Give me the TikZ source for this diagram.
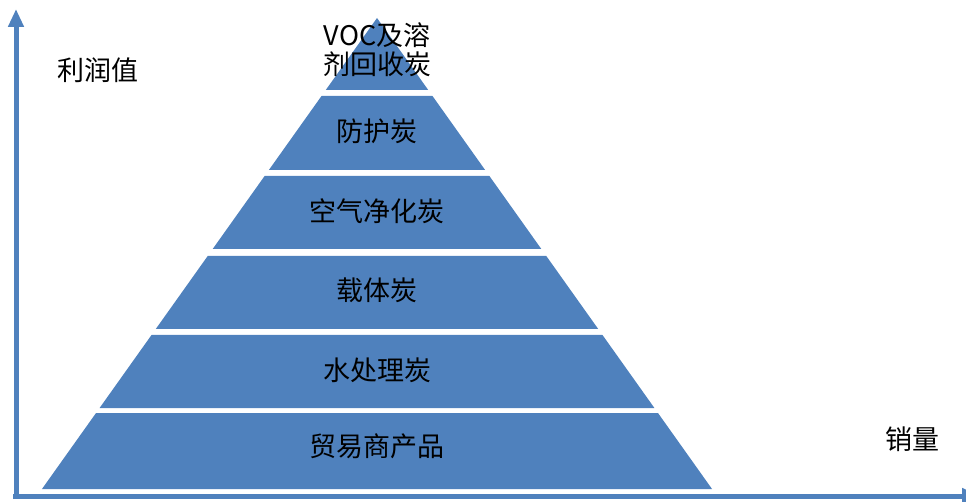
\documentclass[tikz,border=0pt]{standalone}
\usepackage{fontspec}
\setmainfont{Noto Sans CJK SC}
\usetikzlibrary{arrows.meta}
\definecolor{pyrblue}{HTML}{4F81BD}
\tikzset{
  layer/.style={fill=pyrblue},
  axis/.style={draw=pyrblue, line width=5pt, -{Triangle[length=18pt,width=15pt]}},
  tag/.style={font=\fontsize{27}{29}\selectfont, align=center, inner sep=0pt},
}
\begin{document}
\begin{tikzpicture}[x=1pt,y=-1pt]
  \useasboundingbox (0,0) rectangle (966,502);
  % axes
  \coordinate (ybase) at (16,498);
  \coordinate (ytip)  at (16,9);
  \coordinate (xbase) at (13,496);
  \coordinate (xtip)  at (980,496);
  \draw [axis] (ybase) -- (ytip);
  \draw [axis] (xbase) -- (xtip);
  % pyramid, apex at (377,18)
  \foreach \ya/\yb in {18/90, 96/170, 176/249, 256/329, 335/408, 413/489}
    \fill [layer] ({377-0.7113*(\ya-18)},\ya) -- ({377+0.7113*(\ya-18)},\ya)
      -- ({377+0.7113*(\yb-18)},\yb) -- ({377-0.7113*(\yb-18)},\yb) -- cycle;
  \node [tag] (voc)   at (377,50)  {VOC及溶\\剂回收炭};
  \node [tag] (fh)    at (377,131) {防护炭};
  \node [tag] (kq)    at (377,211) {空气净化炭};
  \node [tag] (zt)    at (377,290) {载体炭};
  \node [tag] (scl)   at (377,370) {水处理炭};
  \node [tag] (myc)   at (377,446) {贸易商产品};
  \node [tag] (lirun) at (98,70)   {利润值};
  \node [tag] (xl)    at (912,439) {销量};
\end{tikzpicture}
\end{document}
